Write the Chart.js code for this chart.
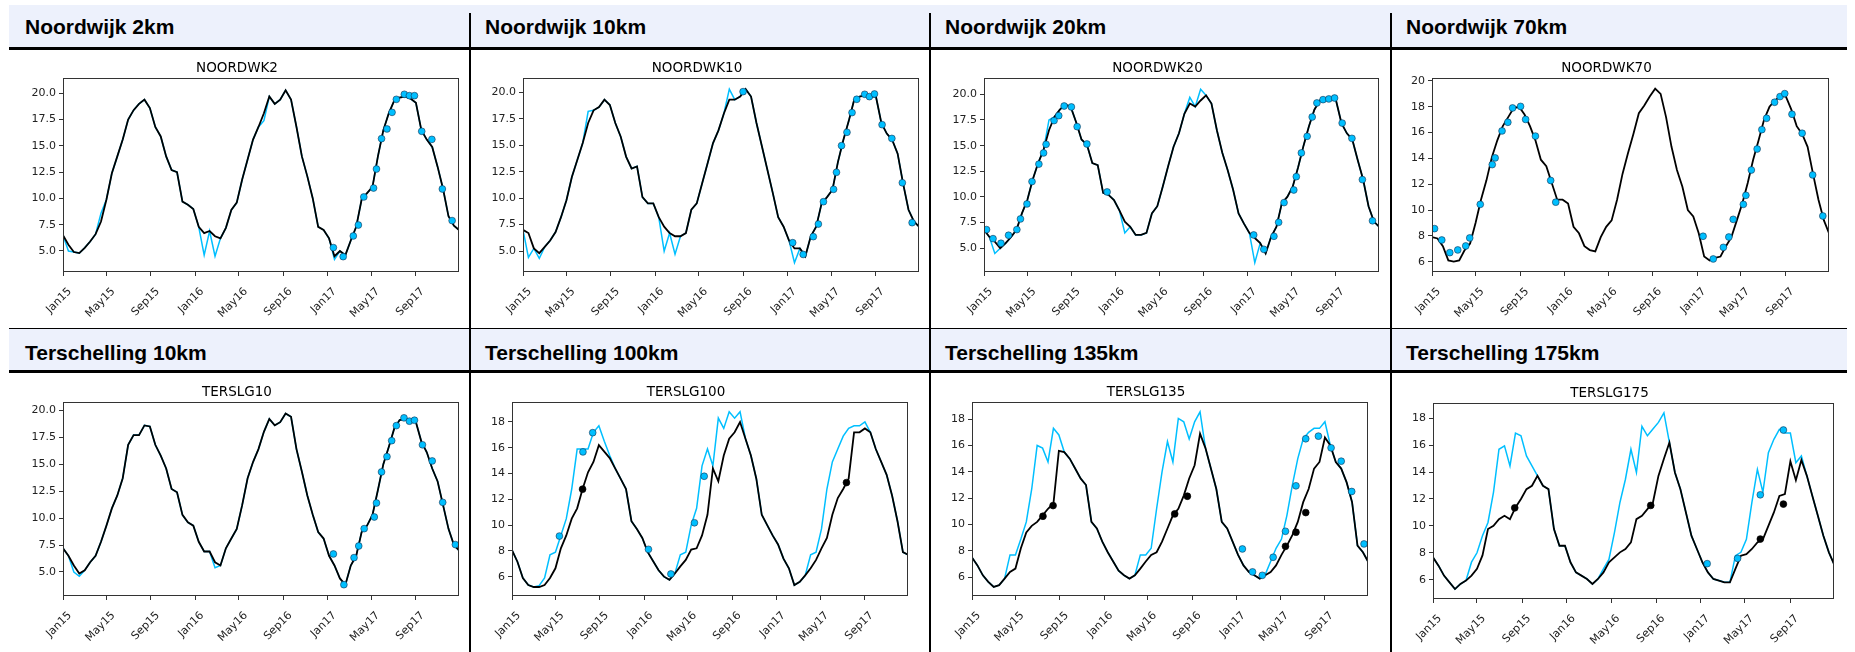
<!DOCTYPE html>
<html>
<head>
<meta charset="utf-8">
<script src="https://cdn.jsdelivr.net/npm/chart.js@4.4.0/dist/chart.umd.min.js"></script>
<style>
body{margin:0;width:1855px;height:652px;position:relative;background:#fff;overflow:hidden;font-family:"Liberation Sans",Arial,sans-serif}
.band{position:absolute;left:9px;width:1838px;background:#edf1fc}
.hline{position:absolute;left:9px;width:1838px;background:#000}
.vline{position:absolute;top:13px;width:2px;height:639px;background:#000}
.head{position:absolute;font-weight:bold;font-size:21px;line-height:21px;color:#000;white-space:nowrap}
canvas{position:absolute}
</style>
</head>
<body>
<div class="band" style="top:5px;height:42px"></div>
<div class="band" style="top:329px;height:41px"></div>
<div class="hline" style="top:47px;height:3px"></div>
<div class="hline" style="top:370px;height:3px"></div>
<div class="hline" style="top:328px;height:1px"></div>
<div class="vline" style="left:469px"></div>
<div class="vline" style="left:929px"></div>
<div class="vline" style="left:1390px"></div>
<script>
// time axis: days since 1 Jan 2015
const days = [0,15,30,45,60,75,90,105,120,135,150,165,180,195,210,225,240,255,270,285,300,315,330,345,360,375,390,405,420,435,450,465,480,495,510,525,540,555,570,585,600,615,630,645,660,675,690,705,720,735,750,765,780,795,810,825,840,855,870,885,900,915,930,945,960,975,990,1005,1020,1035,1050,1065,1080,1094];
const monthTicks = [0,120,243,365,486,609,731,851,974];
const monthLabels = ['Jan15','May15','Sep15','Jan16','May16','Sep16','Jan17','May17','Sep17'];
const ticksHalf = [5,7.5,10,12.5,15,17.5,20];
const ticksEven70 = [6,8,10,12,14,16,18,20];
const ticksEvenT = [6,8,10,12,14,16,18];

const headers = ['Noordwijk 2km','Noordwijk 10km','Noordwijk 20km','Noordwijk 70km','Terschelling 10km','Terschelling 100km','Terschelling 135km','Terschelling 175km'];
const stations = ['NOORDWK2','NOORDWK10','NOORDWK20','NOORDWK70','TERSLG10','TERSLG100','TERSLG135','TERSLG175'];

const blackNW2 = [6.5,5.6,4.9,4.8,5.3,5.9,6.6,7.8,9.9,12.4,14.0,15.6,17.5,18.4,19.0,19.4,18.6,16.8,15.9,14.0,12.7,12.5,9.7,9.4,9.0,7.3,6.7,6.9,6.4,6.2,7.2,8.9,9.6,11.8,13.7,15.6,16.8,18.1,19.7,19.0,19.4,20.3,19.4,16.8,14.0,12.1,10.0,7.3,7.0,6.2,4.5,5.0,4.6,6.0,7.3,9.9,10.5,11.1,14.0,16.5,18.1,19.3,19.6,19.7,19.5,19.1,16.5,15.6,14.9,13.0,10.9,8.3,7.4,7.0];
const blueNW2 = [6.5,5.0,4.9,4.8,5.3,5.9,6.6,8.6,9.9,12.4,14.0,15.6,17.5,18.4,19.0,19.4,18.6,16.8,15.9,14.0,12.7,12.5,9.7,9.4,9.0,7.3,4.6,6.9,4.5,6.2,7.2,8.9,9.6,11.8,13.7,15.6,16.8,17.4,19.7,19.0,19.4,20.3,19.4,16.8,14.0,12.1,10.0,7.3,7.0,6.2,4.2,5.0,4.6,6.0,7.3,9.9,10.5,11.1,14.0,16.5,18.1,19.3,19.6,19.7,19.5,19.1,16.5,15.6,14.9,13.0,10.9,8.3,7.4,7.0];
const blueDotsNW2 = [[747,5.32],[774,4.46],[802,6.43],[816,7.47],[831,10.14],[858,10.99],[866,12.8],[880,15.69],[895,16.61],[909,18.19],[921,19.43],[943,19.91],[957,19.78],[971,19.78],[991,16.39],[1019,15.62],[1048,10.9],[1075,7.89]];
const blackDotsNW2 = [];

const blackNW10 = [7.0,6.7,5.25,4.8,5.4,6.0,6.8,8.2,9.8,12.0,13.6,15.2,17.1,18.3,18.6,19.3,18.8,17.1,15.8,13.9,12.8,13.0,10.1,9.5,9.5,8.2,7.3,6.7,6.4,6.4,6.7,8.9,9.5,11.4,13.3,15.2,16.4,18.0,19.3,19.3,19.6,20.3,19.6,17.1,14.9,12.7,10.5,8.2,7.3,6.0,5.25,5.25,4.5,6.4,7.3,9.5,10.1,10.8,13.4,15.5,17.3,19.3,19.6,19.7,19.6,19.6,17.1,16.1,15.5,14.2,11.4,8.9,7.8,7.3];
const blueNW10 = [7.0,4.4,5.25,4.3,5.4,6.0,6.8,8.2,9.8,12.0,13.6,15.2,18.2,18.3,18.6,19.3,18.8,17.1,15.8,13.9,12.8,13.0,10.1,9.5,9.5,8.2,5.0,6.7,4.7,6.4,6.7,8.9,9.5,11.4,13.3,15.2,16.4,18.0,20.3,19.3,19.6,20.3,19.6,17.1,14.9,12.7,10.5,8.2,7.3,6.0,3.9,5.25,4.5,6.4,7.3,9.5,10.1,10.8,13.4,15.5,17.3,19.3,19.6,19.7,19.6,19.6,17.1,16.1,15.5,14.2,11.4,8.9,7.8,7.3];
const blueDotsNW10 = [[608,20.06],[745,5.79],[774,4.68],[802,6.36],[816,7.55],[830,9.66],[858,10.83],[866,12.44],[880,14.96],[895,16.22],[909,18.08],[922,19.34],[944,19.81],[957,19.59],[971,19.84],[992,16.94],[1019,15.64],[1048,11.45],[1075,7.68]];
const blackDotsNW10 = [];

const blackNW20 = [6.8,6.1,5.65,5.0,5.5,6.1,6.8,8.4,9.7,11.7,13.3,14.6,16.5,17.8,18.5,19.0,18.8,17.3,15.6,15.1,13.3,13.1,10.4,10.2,9.7,8.7,7.6,7.1,6.3,6.3,6.5,8.4,9.1,11.0,13.0,14.9,16.2,18.1,19.1,18.8,19.4,19.9,19.1,16.5,14.3,12.6,10.7,8.4,7.4,6.5,6.0,5.5,4.5,6.1,7.1,9.4,10.0,11.0,12.9,15.0,16.9,18.5,19.4,19.6,19.6,19.4,17.2,16.2,15.6,13.6,11.7,9.1,7.6,7.1];
const blueNW20 = [6.8,6.1,4.5,5.0,5.5,6.1,6.8,8.4,9.7,11.7,13.3,14.6,17.5,17.8,18.5,19.0,18.8,17.3,15.6,15.1,13.3,13.1,10.4,10.2,9.7,8.7,6.5,7.1,6.3,6.3,6.5,8.4,9.1,11.0,13.0,14.9,16.2,18.1,19.7,18.8,20.5,19.9,19.1,16.5,14.3,12.6,10.7,8.4,7.4,6.5,3.6,5.5,4.5,6.1,7.1,9.4,10.0,11.0,12.9,15.0,16.9,18.5,19.4,19.6,19.6,19.4,17.2,16.2,15.6,13.6,11.7,9.1,7.6,7.1];
const blueDotsNW20 = [[7,6.82],[25,5.94],[47,5.49],[68,6.27],[91,6.82],[101,7.86],[119,9.32],[133,11.5],[152,13.2],[165,14.29],[172,15.13],[194,17.44],[207,17.92],[222,18.86],[242,18.77],[258,16.85],[285,15.16],[341,10.49],[747,6.3],[775,4.9],[803,6.17],[816,7.53],[831,9.45],[858,10.68],[865,11.98],[879,14.29],[895,15.91],[909,17.79],[922,19.16],[939,19.48],[955,19.55],[971,19.64],[992,17.2],[1019,15.71],[1048,11.69],[1076,7.68]];
const blackDotsNW20 = [];

const blackNW70 = [7.9,7.8,7.2,6.1,6.0,6.1,6.9,7.4,9.0,10.8,12.3,14.1,15.4,16.5,17.2,17.9,18.0,17.4,16.5,15.4,13.9,13.4,12.1,10.8,10.8,10.5,8.7,8.2,7.2,6.9,6.8,7.9,8.7,9.2,10.8,12.8,14.4,15.9,17.5,18.1,18.8,19.4,19.0,17.2,14.9,13.1,11.8,10.0,9.5,8.2,6.4,6.1,6.3,6.4,7.2,7.9,9.2,10.5,12.1,13.9,15.4,17.0,18.0,18.5,18.8,18.8,17.8,16.5,15.9,14.9,12.8,10.8,9.2,8.2];
const blueNW70 = [];
const blueDotsNW70 = [[7,8.56],[27,7.68],[49,6.7],[71,6.91],[93,7.22],[104,7.84],[133,10.44],[166,13.52],[174,14.04],[193,16.13],[209,16.8],[222,17.91],[244,18.03],[258,17.02],[285,15.73],[327,12.29],[341,10.61],[747,7.97],[775,6.21],[803,7.11],[818,7.91],[830,9.28],[858,10.44],[865,11.14],[880,13.1],[896,14.73],[909,16.23],[922,17.11],[944,18.35],[959,18.79],[972,19.02],[992,17.42],[1020,15.95],[1049,12.72],[1077,9.54]];
const blackDotsNW70 = [];

const blackTS10 = [7.2,6.5,5.6,4.85,5.15,5.9,6.5,7.8,9.3,10.9,12.1,13.7,16.8,17.7,17.7,18.6,18.5,16.8,15.8,14.6,12.7,12.4,10.3,9.6,9.3,7.8,6.9,6.9,5.9,5.6,7.2,8.1,9.0,11.2,13.7,15.2,16.4,18.0,19.2,18.6,18.9,19.7,19.4,16.4,14.3,12.1,10.3,8.7,8.1,6.5,5.6,4.4,3.8,5.6,6.5,8.7,9.3,10.3,12.6,15.0,16.6,18.3,19.1,19.2,19.1,18.9,17.1,16.1,14.6,13.4,11.2,9.0,7.5,7.0];
const blueTS10 = [7.2,6.5,5.0,4.6,5.15,5.9,6.5,7.8,9.3,10.9,12.1,13.7,16.8,17.7,17.7,18.6,18.5,16.8,15.8,14.6,12.7,12.4,10.3,9.6,9.3,7.8,6.9,6.9,5.4,5.6,7.2,8.1,9.0,11.2,13.7,15.2,16.4,18.0,19.2,18.6,18.9,19.7,19.4,16.4,14.3,12.1,10.3,8.7,8.1,6.5,5.6,4.4,3.8,5.6,6.5,8.7,9.3,10.3,12.6,15.0,16.6,18.3,19.1,19.2,19.1,18.9,17.1,16.1,14.6,13.4,11.2,9.0,7.5,7.0];
const blueDotsTS10 = [[747,6.67],[776,3.82],[804,6.33],[817,7.41],[832,9.02],[860,10.1],[866,11.4],[880,14.28],[895,15.7],[908,17.18],[921,18.58],[942,19.3],[957,18.99],[971,19.08],[993,16.8],[1020,15.3],[1049,11.46],[1084,7.54]];
const blackDotsTS10 = [];

const blackTS100 = [8.06,7.16,5.9,5.35,5.2,5.2,5.35,5.9,6.65,8.2,9.2,10.5,11.3,12.8,14.1,14.9,16.2,15.7,15.2,14.4,13.6,12.8,10.3,9.7,9.0,7.9,7.2,6.5,6.0,5.75,6.25,6.8,7.3,8.1,8.2,9.2,10.8,14.4,13.4,15.4,16.7,17.2,18.0,16.7,15.4,13.6,10.8,10.0,9.2,8.5,7.4,6.65,5.35,5.6,6.1,6.65,7.3,8.2,9.0,10.8,12.1,12.8,13.6,17.2,17.2,17.5,17.2,15.9,14.9,13.9,12.3,10.3,7.9,7.7];
const blueTS100 = [8.06,7.16,5.9,5.35,5.2,5.3,5.9,7.7,7.9,9.2,10.5,12.8,15.9,15.9,15.9,17.2,17.7,16.5,15.4,14.4,13.6,12.8,10.3,9.7,9.0,7.9,7.2,6.5,6.0,5.75,6.25,7.7,7.9,10.0,11.3,14.6,15.9,14.6,18.3,17.5,18.8,18.3,18.8,16.7,15.4,13.6,10.8,10.0,9.2,8.5,7.4,6.65,5.35,5.6,6.1,7.7,7.9,9.7,12.8,14.9,15.9,16.9,17.5,17.7,17.7,18.0,17.2,15.9,14.9,13.9,12.3,10.3,7.9,7.7];
const blueDotsTS100 = [[131,9.15],[196,15.68],[223,17.17],[377,8.12],[439,6.21],[504,10.18],[531,13.79]];
const blackDotsTS100 = [[195,12.79],[924,13.3]];

const blackTS135 = [7.5,6.9,6.15,5.65,5.27,5.4,5.9,6.4,6.66,8.2,9.4,9.9,10.2,10.7,11.2,11.6,15.6,15.5,15.0,14.25,13.5,13.0,10.2,9.7,8.7,7.9,7.2,6.5,6.15,5.9,6.15,6.66,7.2,7.7,7.9,8.7,9.7,10.7,11.2,12.2,13.5,14.5,16.9,15.8,14.25,12.7,10.2,9.7,8.7,7.7,6.9,6.4,6.15,5.9,6.15,6.4,6.9,7.7,8.4,9.2,10.2,11.7,12.7,14.25,14.75,16.6,16.0,14.75,14.25,13.2,11.7,8.4,7.9,7.2];
const blueTS135 = [7.5,6.9,6.15,5.65,5.27,5.4,5.9,7.7,7.7,8.9,10.2,12.7,16.0,15.8,14.75,17.3,16.8,15.5,15.0,14.25,13.5,13.0,10.2,9.7,8.7,7.9,7.2,6.5,6.15,5.9,6.15,7.7,7.7,8.2,11.2,14.0,16.3,14.75,18.05,17.8,16.5,17.8,18.55,15.8,14.25,12.7,10.2,9.7,8.7,7.7,6.9,6.4,6.15,5.9,6.2,7.2,8.2,8.9,10.7,13.0,15.0,16.5,17.0,17.3,17.3,17.8,16.0,14.75,14.25,13.2,11.7,8.4,7.9,7.2];
const blueDotsTS135 = [[747,8.15],[775,6.41],[802,6.15],[832,7.52],[866,9.49],[895,12.94],[922,16.51],[957,16.71],[992,15.82],[1020,14.81],[1049,12.51],[1083,8.53]];
const blackDotsTS135 = [[196,10.63],[224,11.44],[560,10.81],[595,12.15],[866,8.35],[895,9.42],[922,10.91]];

const blackTS175 = [7.66,7.04,6.3,5.8,5.3,5.68,5.93,6.3,6.8,7.8,9.76,10.0,10.5,10.75,10.5,11.37,12.0,12.73,12.98,13.72,12.98,12.73,9.76,8.52,8.52,7.29,6.54,6.3,6.05,5.68,6.05,6.54,7.29,7.66,8.03,8.28,8.77,10.5,10.75,11.24,11.74,13.72,15.0,16.2,13.97,12.73,11.0,9.27,8.28,7.29,6.54,6.05,5.93,5.8,5.8,6.8,7.78,7.9,8.28,8.77,9.0,10.0,11.0,12.23,12.36,14.8,13.4,14.9,13.72,12.23,10.75,9.27,8.03,7.16];
const blueTS175 = [7.66,7.04,6.3,5.8,5.3,5.68,5.93,7.3,8.0,9.27,10.25,12.5,15.7,15.95,14.46,16.9,16.7,15.2,14.46,13.72,12.98,12.73,9.76,8.52,8.52,7.29,6.54,6.3,6.05,5.68,6.05,6.8,7.5,9.5,11.74,13.47,15.7,13.97,17.4,16.7,17.2,17.7,18.4,16.2,13.97,12.73,11.0,9.27,8.28,7.29,6.54,6.05,5.93,5.8,5.8,7.78,8.03,9.0,11.74,14.2,12.5,15.45,16.44,17.18,16.9,16.9,14.7,15.2,13.72,12.23,10.75,9.27,8.03,7.16];
const blueDotsTS175 = [[748,7.19],[831,7.58],[893,12.31],[956,17.13]];
const blackDotsTS175 = [[223,11.34],[594,11.52],[893,9.02],[956,11.62]];

const panels = [
  {black: blackNW2, blue: blueNW2, bdots: blueDotsNW2, kdots: blackDotsNW2, yr: [3.0, 21.46], yt: ticksHalf, dec: 1},
  {black: blackNW10, blue: blueNW10, bdots: blueDotsNW10, kdots: blackDotsNW10, yr: [3.02, 21.35], yt: ticksHalf, dec: 1},
  {black: blackNW20, blue: blueNW20, bdots: blueDotsNW20, kdots: blackDotsNW20, yr: [2.69, 21.59], yt: ticksHalf, dec: 1},
  {black: blackNW70, blue: blueNW70, bdots: blueDotsNW70, kdots: blackDotsNW70, yr: [5.2, 20.23], yt: ticksEven70, dec: 0},
  {black: blackTS10, blue: blueTS10, bdots: blueDotsTS10, kdots: blackDotsTS10, yr: [2.77, 20.77], yt: ticksHalf, dec: 1},
  {black: blackTS100, blue: blueTS100, bdots: blueDotsTS100, kdots: blackDotsTS100, yr: [4.5, 19.55], yt: ticksEvenT, dec: 0},
  {black: blackTS135, blue: blueTS135, bdots: blueDotsTS135, kdots: blackDotsTS135, yr: [4.58, 19.3], yt: ticksEvenT, dec: 0},
  {black: blackTS175, blue: blueTS175, bdots: blueDotsTS175, kdots: blackDotsTS175, yr: [4.56, 19.14], yt: ticksEvenT, dec: 0}
];

// layout: plot box per panel (left, top, width, height) and header positions
const boxes = [[63,78,396,194],[523,78,396,194],[984,78,395,194],[1432,78,397,194],[63,402,396,194],[512,402,396,194],[972,402,396,194],[1433,403,401,196]];
const headPos = [[25,16],[485,16],[945,16],[1406,16],[25,342],[485,342],[945,342],[1406,342]];

const SKY = '#00bfff';
Chart.defaults.font.family = 'DejaVu Sans';

const framePlugin = {
  id: 'frame',
  afterDraw(chart) {
    const a = chart.chartArea, ctx = chart.ctx;
    ctx.save();
    ctx.strokeStyle = '#333';
    ctx.lineWidth = 1;
    ctx.strokeRect(Math.round(a.left) + 0.5, Math.round(a.top) + 0.5, Math.round(a.right - a.left) - 1, Math.round(a.bottom - a.top) - 1);
    ctx.restore();
  }
};

function toXY(vals) {
  return vals.map((v, k) => ({x: days[k], y: v}));
}

function makePanel(i) {
  const p = panels[i], box = boxes[i];
  const padL = 48, padT = 30, padR = 10, padB = 54;

  const h = document.createElement('div');
  h.className = 'head';
  h.style.left = headPos[i][0] + 'px';
  h.style.top = headPos[i][1] + 'px';
  h.textContent = headers[i];
  document.body.appendChild(h);

  const cv = document.createElement('canvas');
  cv.width = box[2] + padL + padR;
  cv.height = box[3] + padT + padB;
  cv.style.left = (box[0] - padL) + 'px';
  cv.style.top = (box[1] - padT) + 'px';
  document.body.appendChild(cv);

  const datasets = [
    {type: 'scatter', data: p.bdots.map(d => ({x: d[0], y: d[1]})), pointRadius: 3.4, pointBackgroundColor: SKY,
     pointBorderColor: 'rgba(20,40,70,0.8)', pointBorderWidth: 0.7, showLine: false, order: 0, clip: 0},
    {type: 'scatter', data: p.kdots.map(d => ({x: d[0], y: d[1]})), pointRadius: 3.4, pointBackgroundColor: '#000',
     pointBorderColor: '#000', pointBorderWidth: 0.7, showLine: false, order: 0, clip: 0},
    {type: 'line', data: toXY(p.black), borderColor: '#000', borderWidth: 1.8, pointRadius: 0, tension: 0, fill: false, order: 1, clip: 0}
  ];
  if (p.blue.length) {
    datasets.push({type: 'line', data: toXY(p.blue), borderColor: SKY, borderWidth: 1.5, pointRadius: 0, tension: 0, fill: false, order: 2, clip: 0});
  }

  new Chart(cv, {
    type: 'line',
    data: {datasets},
    options: {
      responsive: false,
      animation: false,
      devicePixelRatio: 1,
      layout: {padding: {left: 0, right: padR, top: 0, bottom: 0}},
      plugins: {
        legend: {display: false},
        tooltip: {enabled: false},
        title: {display: true, text: stations[i], color: '#000',
                font: {size: 13.5, weight: 'normal', lineHeight: 1.2}, padding: {top: 12, bottom: 1.8}}
      },
      scales: {
        x: {
          type: 'linear', min: 0, max: 1094,
          afterBuildTicks: s => { s.ticks = monthTicks.map(v => ({value: v})); },
          afterFit: s => { s.height = padB; },
          grid: {display: true, drawOnChartArea: false, drawTicks: true, tickLength: 4, color: '#333'},
          border: {display: false},
          ticks: {autoSkip: false, minRotation: 45, maxRotation: 45, labelOffset: 7, padding: 9,
                  color: '#222', font: {size: 11}, callback: (v, idx) => monthLabels[idx]}
        },
        y: {
          min: p.yr[0], max: p.yr[1],
          afterBuildTicks: s => { s.ticks = p.yt.map(v => ({value: v})); },
          afterFit: s => { s.width = padL; },
          grid: {display: true, drawOnChartArea: false, drawTicks: true, tickLength: 4, color: '#333'},
          border: {display: false},
          ticks: {padding: 3, color: '#222', font: {size: 11}, callback: v => v.toFixed(p.dec)}
        }
      }
    },
    plugins: [framePlugin]
  });
}

window.addEventListener('load', function() {
  for (let i = 0; i < panels.length; i++) makePanel(i);
});
</script>
</body>
</html>
